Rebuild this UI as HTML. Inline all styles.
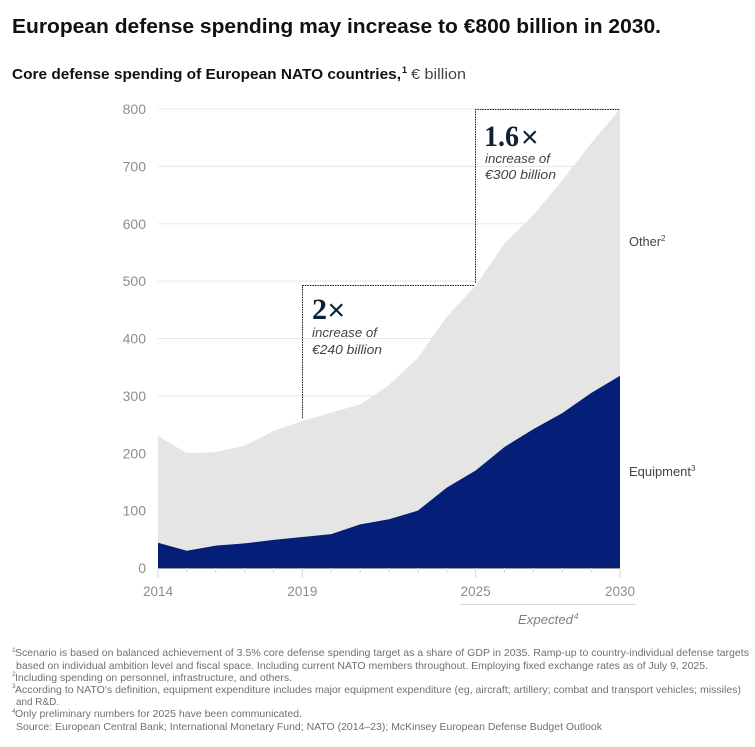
<!DOCTYPE html>
<html lang="en">
<head>
<meta charset="utf-8">
<title>European defense spending</title>
<style>
html,body{margin:0;padding:0;background:#fff;}
svg{display:block;font-family:"Liberation Sans",sans-serif;}
</style>
</head>
<body>
<svg id="chart" xmlns="http://www.w3.org/2000/svg" width="755" height="747" viewBox="0 0 755 747">
  <rect width="755" height="747" fill="#fff"/>
  <text x="12" y="33" font-size="20" font-weight="700" fill="#111" textLength="649" lengthAdjust="spacingAndGlyphs">European defense spending may increase to €800 billion in 2030.</text>
  <text x="12" y="79" font-size="15" font-weight="700" fill="#111" textLength="389" lengthAdjust="spacingAndGlyphs">Core defense spending of European NATO countries,</text>
  <text x="402" y="73" font-size="9" font-weight="700" fill="#111">1</text>
  <text x="411" y="79" font-size="14.5" fill="#444" textLength="55" lengthAdjust="spacingAndGlyphs">€ billion</text>

  <g id="grid"></g>
  <g id="areas"></g>
  <g id="xaxis"></g>
  <g id="yaxis"></g>
  <g id="brackets"></g>

  <text x="312" y="319" font-family="'Liberation Serif',serif" font-size="30" font-weight="700" fill="#0b2238">2</text>
  <text x="327.5" y="320" font-size="30" fill="#0b2238">×</text>
  <text x="312" y="337" font-size="12.5" font-style="italic" fill="#444" textLength="65" lengthAdjust="spacingAndGlyphs">increase of</text>
  <text x="312" y="354" font-size="12.5" font-style="italic" fill="#444" textLength="70" lengthAdjust="spacingAndGlyphs">€240 billion</text>

  <text x="484" y="146" font-family="'Liberation Serif',serif" font-size="30" font-weight="700" fill="#0b2238" textLength="35" lengthAdjust="spacingAndGlyphs">1.6</text>
  <text x="521" y="147" font-size="30" fill="#0b2238">×</text>
  <text x="485" y="163" font-size="12.5" font-style="italic" fill="#444" textLength="65" lengthAdjust="spacingAndGlyphs">increase of</text>
  <text x="485" y="179" font-size="12.5" font-style="italic" fill="#444" textLength="71" lengthAdjust="spacingAndGlyphs">€300 billion</text>

  <text x="629" y="246" font-size="12.5" fill="#444" textLength="32" lengthAdjust="spacingAndGlyphs">Other</text>
  <text x="661" y="241" font-size="8" fill="#444">2</text>
  <text x="629" y="476" font-size="12.5" fill="#444" textLength="62" lengthAdjust="spacingAndGlyphs">Equipment</text>
  <text x="691" y="471" font-size="8" fill="#444">3</text>

  <line x1="460" y1="604.5" x2="636" y2="604.5" stroke="#d9d9d9" stroke-width="1"/>
  <text x="518" y="624" font-size="12.5" font-style="italic" fill="#808080" textLength="55" lengthAdjust="spacingAndGlyphs">Expected</text>
  <text x="574" y="619" font-size="8" font-style="italic" fill="#808080">4</text>

  <g font-size="10.3" fill="#707070">
    <text x="12" y="652" font-size="6.5">1</text>
    <text x="15" y="656" textLength="734" lengthAdjust="spacingAndGlyphs">Scenario is based on balanced achievement of 3.5% core defense spending target as a share of GDP in 2035. Ramp-up to country-individual defense targets</text>
    <text x="16" y="669" textLength="692" lengthAdjust="spacingAndGlyphs">based on individual ambition level and fiscal space. Including current NATO members throughout. Employing fixed exchange rates as of July 9, 2025.</text>
    <text x="12" y="676" font-size="6.5">2</text>
    <text x="15" y="681" textLength="277" lengthAdjust="spacingAndGlyphs">Including spending on personnel, infrastructure, and others.</text>
    <text x="12" y="688" font-size="6.5">3</text>
    <text x="15" y="693" textLength="726" lengthAdjust="spacingAndGlyphs">According to NATO's definition, equipment expenditure includes major equipment expenditure (eg, aircraft; artillery; combat and transport vehicles; missiles)</text>
    <text x="16" y="705" textLength="43" lengthAdjust="spacingAndGlyphs">and R&amp;D.</text>
    <text x="12" y="713" font-size="6.5">4</text>
    <text x="15" y="717" textLength="287" lengthAdjust="spacingAndGlyphs">Only preliminary numbers for 2025 have been communicated.</text>
    <text x="16" y="730" textLength="586" lengthAdjust="spacingAndGlyphs">Source: European Central Bank; International Monetary Fund; NATO (2014–23); McKinsey European Defense Budget Outlook</text>
  </g>
</svg>
<script>
const years = [2014,2015,2016,2017,2018,2019,2020,2021,2022,2023,2024,2025,2026,2027,2028,2029,2030];
const equipment = [44,30,39,43,49,54,59,76,85,100,140,170,211,242,270,305,335];
const other = [186,170,163,170,190,202,212,209,234,266,298,322,355,373,406,435,465];
const yTicks = [0,100,200,300,400,500,600,700,800];
const xTickLabels = [2014,2019,2025,2030];
const bracketFrom = [2019,2025];
const bracketBase = [256,492];
const bracketTop = [493,800];

const NS = 'http://www.w3.org/2000/svg';
function xScale(year){ return 158 + (year - 2014) * (620 - 158) / (2030 - 2014); }
function yScale(v){ return 568 - v * (568 - 109) / 800; }
function make(tag, attrs, parent){
  const el = document.createElementNS(NS, tag);
  for (const k in attrs) el.setAttribute(k, attrs[k]);
  parent.appendChild(el);
  return el;
}
const grid = document.getElementById('grid');
const areas = document.getElementById('areas');
const xaxis = document.getElementById('xaxis');
const yaxis = document.getElementById('yaxis');
const brackets = document.getElementById('brackets');

yTicks.forEach(function(t){
  if (t > 0) {
    const g = make('line', {x1:xScale(years[0]), x2:xScale(years[years.length-1]), y1:yScale(t), y2:yScale(t), stroke:'#e8e8e8', 'stroke-width':1}, grid);
    
    
  }
  const l = make('text', {x:146, y:yScale(t)+5, 'text-anchor':'end', 'font-size':14, fill:'#8e8e8e'}, yaxis);
  l.textContent = t;
  
  
});

const totals = equipment.map(function(v,i){ return v + other[i]; });
function areaPath(top, bottom){
  let d = '';
  years.forEach(function(y,i){ d += (i ? 'L' : 'M') + xScale(y).toFixed(2) + ' ' + yScale(top[i]).toFixed(2); });
  for (let i = years.length - 1; i >= 0; i--) d += 'L' + xScale(years[i]).toFixed(2) + ' ' + yScale(bottom[i]).toFixed(2);
  return d + 'Z';
}
const otherArea = make('path', {d:areaPath(totals, equipment), fill:'#e5e5e5'}, areas);


const equipArea = make('path', {d:areaPath(equipment, years.map(function(){return 0;})), fill:'#051f78'}, areas);



const baseLine = make('line', {x1:xScale(years[0]), x2:xScale(years[years.length-1]), y1:yScale(0)+0.5, y2:yScale(0)+0.5, stroke:'#9a9a9a', 'stroke-width':1}, xaxis);


years.forEach(function(y){
  const major = xTickLabels.indexOf(y) >= 0;
  const tick = make('line', {x1:xScale(y), x2:xScale(y), y1:yScale(0), y2:yScale(0)+(major?10:5), stroke:'#d5d5d5', 'stroke-width':1}, xaxis);
  
  
});
xTickLabels.forEach(function(y){
  const l = make('text', {x:xScale(y), y:596, 'text-anchor':'middle', 'font-size':13.5, fill:'#8e8e8e'}, xaxis);
  l.textContent = y;
  
  
});

bracketFrom.forEach(function(y,i){
  const x = Math.floor(xScale(y)) + 0.5;
  const nextX = i + 1 < bracketFrom.length ? Math.floor(xScale(bracketFrom[i+1])) : xScale(years[years.length-1]);
  const top = Math.floor(yScale(bracketTop[i])) + 0.5;
  const p = make('path', {d:'M' + x + ' ' + (yScale(bracketBase[i]) - 3) + 'V' + top + 'H' + nextX, fill:'none', stroke:'#111', 'stroke-width':1, 'stroke-dasharray':'1.5 1'}, brackets);
  
  
});
</script>
</body>
</html>
